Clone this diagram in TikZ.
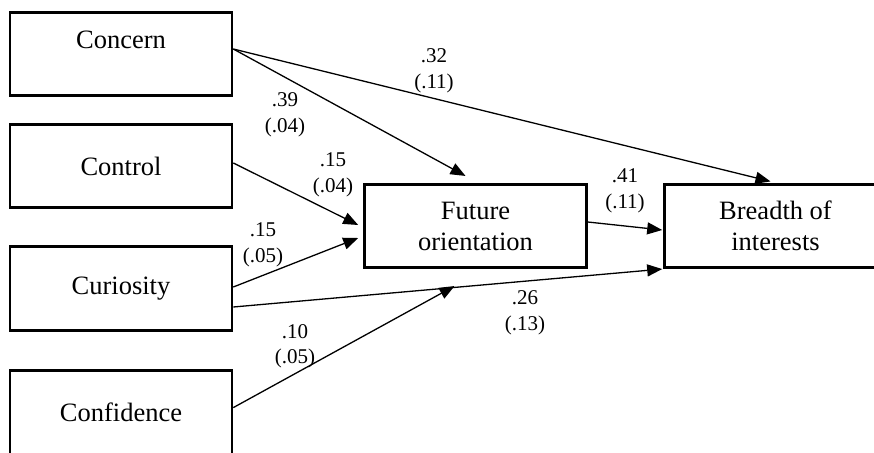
\documentclass[tikz,border=0pt]{standalone}
\usepackage{fontspec}
\setmainfont{Liberation Serif}
\usetikzlibrary{calc,arrows.meta}
\begin{document}
\begin{tikzpicture}[x=1pt,y=-1pt,
  box/.style={draw,line width=2.6pt,minimum width=222pt,minimum height=83.5pt,inner sep=0pt,align=center,font=\fontsize{26.5}{31}\selectfont},
  path/.style={line width=1.3pt,-{Triangle[length=15pt,width=12pt]}},
  coef/.style={align=center,inner sep=0pt,font=\fontsize{21}{25.5}\selectfont}]
\useasboundingbox (0,0) rectangle (874,452);
\clip (0,0) rectangle (874,452);
\node[box,text height=36pt,text depth=47.5pt] (concern) at (121,54) {Concern};
\node[box] (control) at (121,166) {Control};
\node[box] (curiosity) at (121,288.5) {Curiosity};
\node[box,anchor=north,text height=51pt,text depth=45pt] (confidence) at (121,369.3) {Confidence};
\node[box] (future) at (475.5,226) {Future\\orientation};
\node[box] (breadth) at (775.5,226) {Breadth of\\interests};

\draw[path] ($(concern.east)+(0,-5)$) -- ($(future.north)+(-10,-7)$);
\draw[path] ($(concern.east)+(0,-5)$) -- ($(breadth.north)+(-5,-1.5)$);
\draw[path] ($(control.east)+(0,-3)$) -- ($(future.west)+(-5,-1)$);
\draw[path] ($(curiosity.east)+(0,-1.5)$) -- ($(future.west)+(-5,12)$);
\draw[path] ($(curiosity.east)+(0,18.5)$) -- ($(breadth.south west)+(-1,0)$);
\draw[path] ($(confidence.east)+(0,-11)$) -- ($(future.south)+(-21,17)$);
\draw[path] ($(future.east)+(0,-4)$) -- ($(breadth.west)+(-1,4)$);

\node[coef] (l32) at (434,71) {.32\\(.11)};
\node[coef] (l39) at (285,115) {.39\\(.04)};
\node[coef] (l15a) at (333,175) {.15\\(.04)};
\node[coef] (l15b) at (263,245) {.15\\(.05)};
\node[coef] (l41) at (625,191) {.41\\(.11)};
\node[coef] (l26) at (525,313) {.26\\(.13)};
\node[coef] (l10) at (295,346) {.10\\(.05)};
\end{tikzpicture}
\end{document}
